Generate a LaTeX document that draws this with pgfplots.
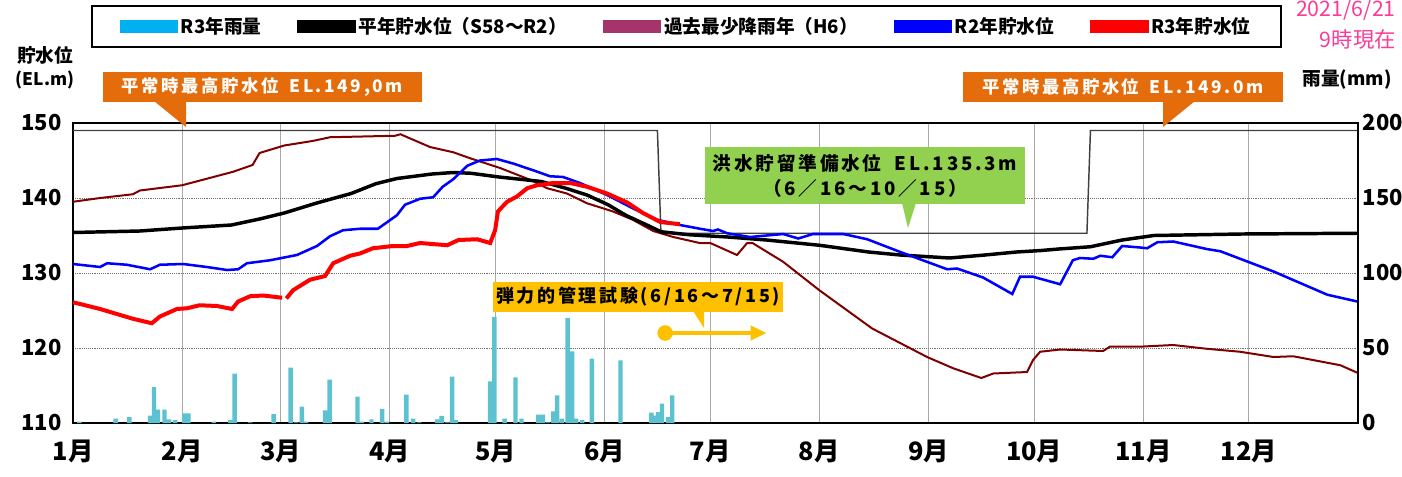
\documentclass[border=0pt]{standalone}
\usepackage{fontspec}
\usepackage{pgfplots}
\pgfplotsset{compat=1.18}
\usetikzlibrary{arrows.meta}
\setmainfont{Noto Sans CJK JP}
\newfontfamily\jp{Noto Sans CJK JP}
\newfontfamily\jpls{Noto Sans CJK JP}[LetterSpace=15]
\definecolor{raincol}{RGB}{92,194,208}
\definecolor{rainleg}{RGB}{0,176,240}
\definecolor{h6col}{RGB}{128,0,0}
\definecolor{h6leg}{RGB}{165,52,106}
\definecolor{orangebox}{RGB}{228,108,10}
\definecolor{greenbox}{RGB}{146,208,80}
\definecolor{yellowbox}{RGB}{255,192,0}
\definecolor{datepink}{RGB}{250,60,150}
\definecolor{gridgray}{RGB}{170,170,170}
\begin{document}
\begin{tikzpicture}
\useasboundingbox (0pt,0pt) rectangle (1051.5pt,357pt);
\begin{axis}[
  at={(54.75pt,39.75pt)}, anchor=south west, scale only axis,
  width=963.75pt, height=225pt,
  xmin=0, xmax=365, ymin=110, ymax=150,
  xtick={0,31,59,90,120,151,181,212,243,273,304,334},
  xticklabels={1月,2月,3月,4月,5月,6月,7月,8月,9月,10月,11月,12月},
  ytick={110,120,130,140,150},
  major tick length=0pt,
  axis line style={line width=2.2pt},
  xmajorgrids, ymajorgrids,
  x grid style={gridgray, line width=0.8pt},
  y grid style={black!55, densely dotted, line width=0.5pt},
  /pgf/number format/assume math mode=true,
  yticklabel style={font=\jp\bfseries\fontsize{16.5}{16.5}\selectfont, xshift=-5pt},
  xticklabel style={font=\jp\bfseries\fontsize{19}{19}\selectfont, yshift=-9pt},
  legend columns=5,
  legend cell align=left,
  legend image code/.code={\fill[#1] (0pt,-3.75pt) rectangle (42pt,3.75pt);},
  legend style={at={(0.4774,1.393)}, anchor=north, draw=black, line width=1.8pt,
    inner xsep=21pt, inner ysep=6.5pt,
    font=\jp\bfseries\fontsize{14}{16}\selectfont,
    /tikz/every even column/.append style={column sep=25pt}},
]
\addplot[black!75, line width=1.1pt, forget plot] coordinates {(0,149)(166,149)(167,135.3)(288,135.3)(289,149)(365,149)};
\addplot[h6col, line width=1.5pt, forget plot] coordinates {(0,139.5)(7.7,140.0)(17,140.5)(19,141.0)(31,141.7)(45.5,143.5)(51,144.4)(53,146.0)(60,147.0)(68,147.6)(73,148.1)(91.5,148.3)(93,148.5)(101.4,146.8)(108,146.1)(112.8,145.3)(121.3,144.0)(130,142.4)(134.7,141.3)(140.3,140.6)(146,139.3)(153.4,138.2)(159,137.1)(164.8,135.6)(170.5,134.8)(178,134.0)(181,134.0)(188.6,132.4)(191.5,134.0)(193,134.0)(201.7,131.5)(212,127.7)(227,122.6)(242.6,118.8)(250,117.3)(258,116.0)(261.4,116.6)(271,116.8)(272.7,118.4)(274.7,119.5)(280.4,119.8)(292.6,119.6)(294.6,120.2)(304,120.2)(312.5,120.4)(322,119.9)(331.5,119.5)(341,118.8)(346.6,118.9)(360,117.7)(364.8,116.7)};
\addplot[black, line width=2.6pt, forget plot] coordinates {(0,135.4)(19,135.6)(31,136.0)(45,136.4)(53,137.2)(60,138.0)(69,139.3)(79,140.6)(86,141.9)(92,142.6)(102,143.2)(108,143.4)(113,143.3)(121,142.8)(133,142.2)(140,141.3)(146,140.4)(152,139.1)(157,137.7)(163,136.4)(167,135.5)(175,135.1)(186,134.8)(197,134.4)(212,133.7)(226,132.8)(235,132.4)(249,132.0)(259,132.4)(268,132.8)(275,133.0)(280,133.2)(289,133.5)(298,134.4)(307,135.0)(332,135.2)(365,135.3)};
\addplot[blue, line width=1.9pt, forget plot] coordinates {(0,131.2)(7.7,130.8)(9.7,131.3)(15.3,131.1)(21.9,130.5)(24.7,131.1)(31.3,131.2)(38,130.8)(43.8,130.4)(46.9,130.5)(49.4,131.3)(56,131.7)(63.6,132.4)(69.3,133.6)(73,134.9)(76.7,135.7)(81.5,135.9)(86.6,135.9)(92,137.7)(94.3,139.1)(98.6,139.9)(102.3,140.1)(105,141.5)(108,142.5)(112,144.3)(115.6,145.0)(120.4,145.2)(125,144.6)(130.7,143.7)(135.5,142.9)(139.2,142.8)(144,142.0)(151.7,140.4)(159.1,138.6)(165.9,137.1)(172.4,136.4)(178.1,135.9)(181.8,135.6)(183.2,135.8)(185.8,135.3)(192.3,134.8)(201.7,135.2)(206,134.6)(210.2,135.2)(218.8,135.2)(225.6,134.5)(235,132.8)(248.3,130.5)(251.1,130.6)(258.5,129.4)(266.8,127.2)(269,129.5)(272.7,129.5)(280.4,128.5)(284,131.7)(286,132.0)(289.8,131.9)(291.8,132.3)(295.2,132.1)(298,133.6)(303.1,133.4)(305.1,133.3)(308,134.1)(312.5,134.2)(322,133.2)(325.9,132.9)(341,130.2)(356.3,127.1)(364.8,126.2)};
\addplot[red, line width=3pt, forget plot] coordinates {(0,126.1)(7.7,125.2)(17,123.9)(22.4,123.3)(24.7,124.2)(29.5,125.2)(32.4,125.3)(36,125.7)(40.9,125.6)(45.2,125.2)(46.9,126.2)(50.3,126.9)(54,127.0)(59.4,126.7)};
\addplot[red, line width=3pt, forget plot] coordinates {(60.6,126.6)(62.5,127.7)(67.3,129.1)(71.6,129.6)(73.9,131.3)(78.7,132.3)(81.5,132.6)(85.2,133.3)(90.9,133.6)(94.9,133.6)(98.6,134.0)(106.3,133.7)(109.5,134.4)(114.8,134.5)(118.5,134.0)(119.9,135.7)(120.7,138.2)(123.3,139.5)(126.1,140.2)(129,141.3)(131.8,141.7)(136.4,142.0)(141.2,142.0)(146,141.5)(151.7,140.6)(157.4,139.4)(161.9,138.0)(166.8,136.8)(172.4,136.5)};
\addplot[yellowbox, line width=3pt, -{Triangle[length=12pt,width=10.5pt]}, forget plot] coordinates {(168.2,122.0)(197,122.0)};
\addplot[yellowbox, only marks, mark=*, mark size=5.6pt, forget plot] coordinates {(168.2,122.0)};
\addlegendimage{rainleg}
\addlegendentry{R3年雨量}
\addlegendimage{black}
\addlegendentry{平年貯水位（S58～R2）}
\addlegendimage{h6leg}
\addlegendentry{過去最少降雨年（H6）}
\addlegendimage{blue}
\addlegendentry{R2年貯水位}
\addlegendimage{red}
\addlegendentry{R3年貯水位}
\end{axis}
\begin{axis}[
  at={(54.75pt,39.75pt)}, anchor=south west, scale only axis,
  width=963.75pt, height=225pt,
  xmin=0, xmax=365, ymin=0, ymax=200,
  axis x line=none, axis y line*=right,
  y axis line style={line width=2.2pt},
  ytick={0,50,100,150,200},
  major tick length=0pt,
  /pgf/number format/assume math mode=true,
  yticklabel style={font=\jp\bfseries\fontsize{16.5}{16.5}\selectfont, xshift=0pt},
]
\addplot[ybar, bar width=1.25, fill=raincol, draw=none] coordinates {(1.8,1)(12.1,3)(16,4)(21.9,5)(23,24)(24.1,9)(26,9)(27.3,2.5)(29,2)(31.6,6.5)(32.8,6.5)(40,1)(44.7,2)(45.9,33)(50.3,0.5)(57,6)(61.8,37)(63.4,0.5)(65,11)(66.2,1)(71.6,8.5)(72.9,29)(80.8,17.6)(82,1)(84.8,2.5)(87.8,9.3)(89.2,1)(94.7,19)(96.6,3)(98.3,0.5)(103.4,2.5)(104.7,4.7)(106.3,0.5)(107.7,31)(108.8,2)(118.5,27.8)(119.7,70.7)(122.6,3)(125.7,30.5)(127.4,3)(132.2,5.6)(133.5,5.6)(134.9,0.5)(136.4,7.8)(137.5,18.5)(138.9,3)(140.5,70)(141.8,47.8)(142.9,3)(144.6,2)(147.4,43)(155.5,41.8)(164.3,7)(165.5,5)(166.2,7.3)(167.3,13)(169,4)(170.2,18.5)};
\end{axis}
\begin{scope}[x=0.75pt,y=0.75pt]
\node[anchor=east, text=datepink, font=\jp\fontsize{16}{16}\selectfont, inner sep=0pt] at (1396,466) {2021/6/21};
\node[anchor=east, text=datepink, font=\jp\fontsize{16}{16}\selectfont, inner sep=0pt] at (1396,437) {9時現在};
\node[font=\jp\bfseries\fontsize{14}{14}\selectfont, inner sep=0pt] at (45,421) {貯水位};
\node[font=\jp\bfseries\fontsize{13}{13}\selectfont, inner sep=0pt] at (45,396) {(EL.m)};
\node[font=\jp\bfseries\fontsize{14}{14}\selectfont, inner sep=0pt] at (1347,396) {雨量(mm)};
\node[fill=orangebox, text=white, minimum width=239pt, minimum height=22.5pt, inner sep=0pt, font=\jpls\bfseries\fontsize{13}{13}\selectfont] at (262.5,389) {平常時最高貯水位\hspace{8pt}EL.149,0m};
\fill[orangebox] (154,375) -- (186,375) -- (186,349) -- cycle;
\node[fill=orangebox, text=white, minimum width=240pt, minimum height=22.5pt, inner sep=0pt, font=\jpls\bfseries\fontsize{13}{13}\selectfont] at (1123,389) {平常時最高貯水位\hspace{8pt}EL.149.0m};
\fill[orangebox] (1163,375) -- (1195,375) -- (1163,349) -- cycle;
\node[fill=greenbox, minimum width=240pt, minimum height=42.75pt, inner sep=0pt, align=center, font=\jpls\bfseries\fontsize{14}{18.75}\selectfont] at (865,300.5) {洪水貯留準備水位\hspace{10pt}EL.135.3m\\（6／16～10／15）};
\fill[greenbox] (902,273) -- (916,273) -- (908,248) -- cycle;
\node[fill=yellowbox, minimum width=217.5pt, minimum height=22.5pt, inner sep=0pt, font=\jpls\bfseries\fontsize{13.5}{13.5}\selectfont] at (638,179) {弾力的管理試験(6/16～7/15)};
\fill[yellowbox] (693,165) -- (704,165) -- (704,148) -- cycle;
\end{scope}
\end{tikzpicture}
\end{document}
